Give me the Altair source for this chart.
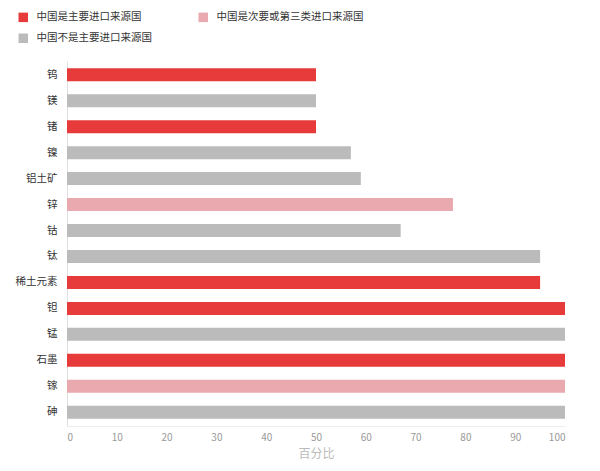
import altair as alt
import pandas as pd

minerals = ["钨", "镁", "锗", "镍", "铝土矿", "锌", "钴", "钛", "稀土元素", "钽", "锰", "石墨", "镓", "砷"]
values = [50, 50, 50, 57, 59, 77.5, 67, 95, 95, 100, 100, 100, 100, 100]
cats = ["主", "不", "主", "不", "不", "次", "不", "不", "主", "主", "不", "主", "次", "不"]

cat_names = {
    "主": "中国是主要进口来源国",
    "次": "中国是次要或第三类进口来源国",
    "不": "中国不是主要进口来源国",
}
legend_order = ["中国是主要进口来源国", "中国是次要或第三类进口来源国", "中国不是主要进口来源国"]
colors = ["#E63B3A", "#EAA9AE", "#BBBBBB"]

df = pd.DataFrame({
    "mineral": minerals,
    "value": values,
    "cat": [cat_names[c] for c in cats],
})

FONT = "Noto Sans CJK SC"

chart = alt.Chart(df).mark_bar().encode(
    y=alt.Y("mineral:N", sort=minerals, title=None,
            scale=alt.Scale(paddingInner=0.5, paddingOuter=0.28),
            axis=alt.Axis(labelFontSize=10.5, labelColor="#333333", labelFont=FONT,
                          ticks=False, domainColor="#E0E0E0", labelPadding=10)),
    x=alt.X("value:Q", title="百分比", scale=alt.Scale(domain=[0, 100]),
            axis=alt.Axis(values=list(range(0, 101, 10)), grid=False, ticks=False,
                          labelFontSize=10, labelColor="#999999", labelFont=FONT,
                          domainColor="#EEEEEE", labelPadding=6,
                          titleFontSize=12, titleColor="#BBBBBB", titleFont=FONT,
                          titleFontWeight="normal", titlePadding=6)),
    color=alt.Color("cat:N", scale=alt.Scale(domain=legend_order, range=colors),
                    legend=alt.Legend(title=None, orient="none", legendX=-49, legendY=-49,
                                      direction="horizontal", columns=2,
                                      symbolType="square", symbolSize=90,
                                      symbolStrokeWidth=0,
                                      labelFontSize=10.5, labelColor="#333333", labelFont=FONT,
                                      labelLimit=300, columnPadding=46, rowPadding=10,
                                      labelOffset=8)),
).properties(
    width=498, height=365,
    autosize=alt.AutoSizeParams(type="none"),
    padding={"left": 59, "top": 53, "right": 27, "bottom": 37},
).configure_view(stroke=None)

chart.save("out.html", embed_options={"renderer": "svg", "actions": False})
